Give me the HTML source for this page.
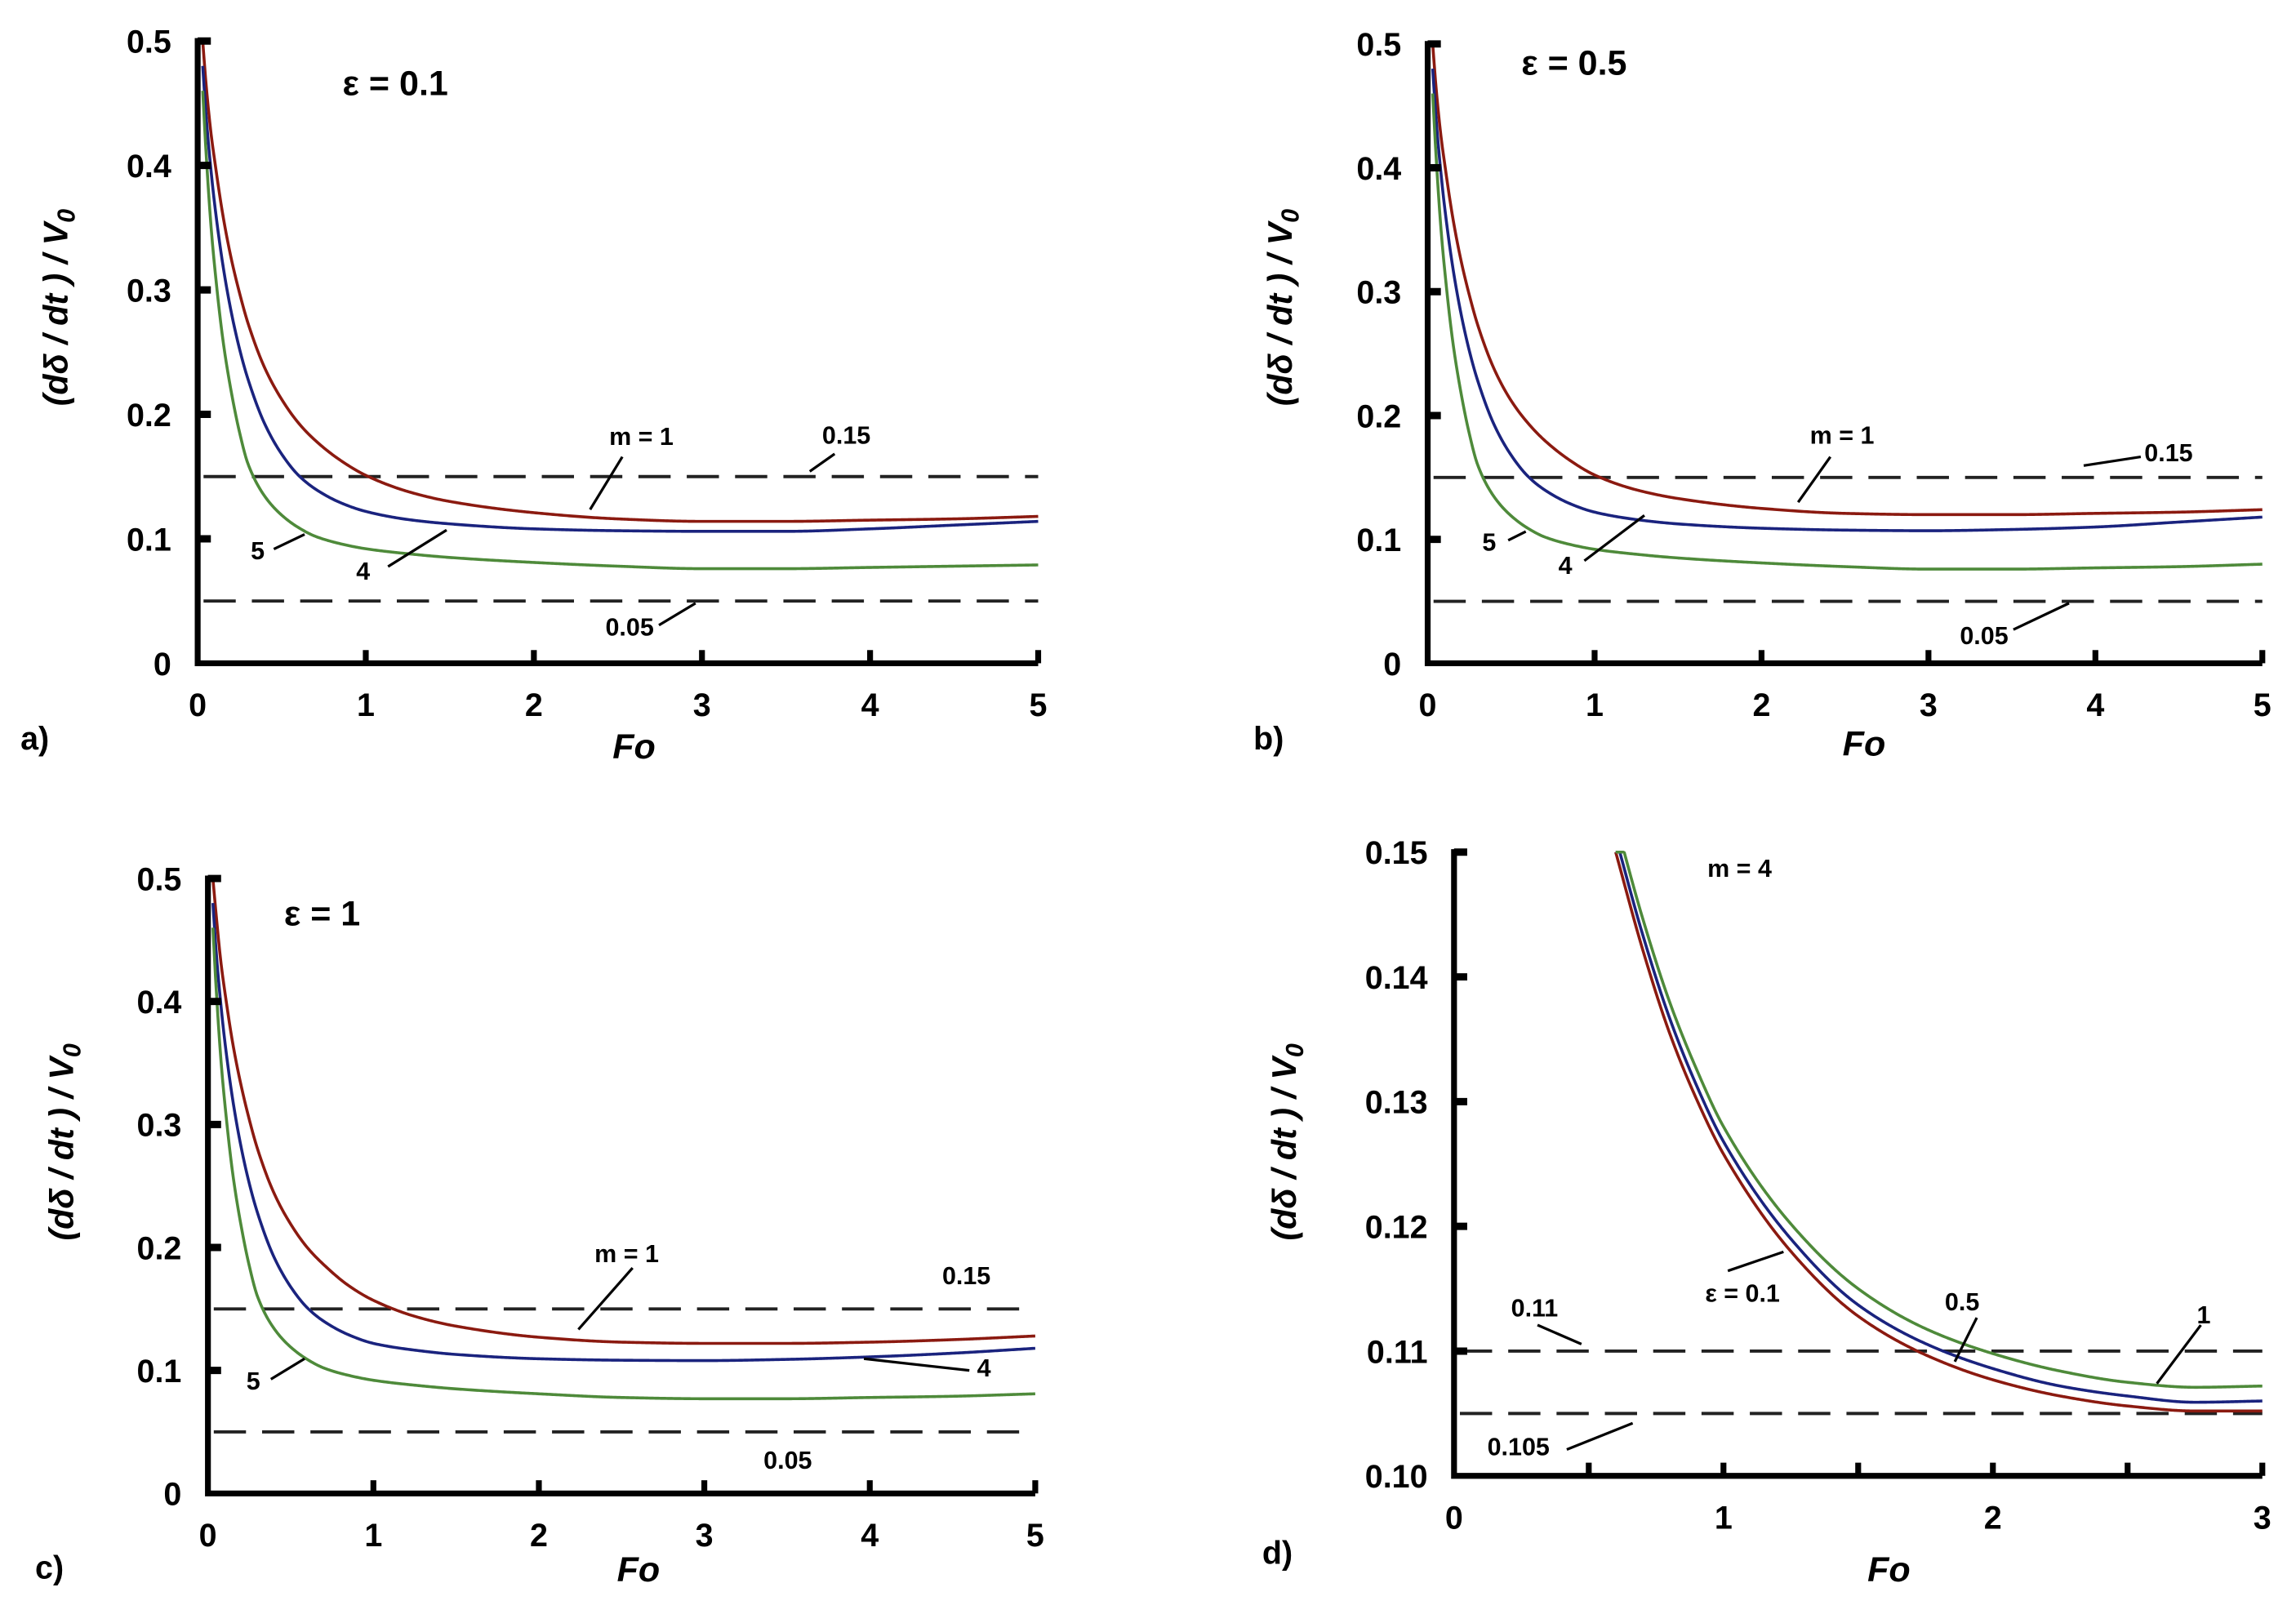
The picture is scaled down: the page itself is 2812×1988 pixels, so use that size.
<!DOCTYPE html>
<html><head><meta charset="utf-8"><style>
html,body{margin:0;padding:0;background:#fff}
svg{display:block}
text{font-family:"Liberation Sans",Arial,sans-serif;font-weight:bold;fill:#000}
</style></head><body>
<svg id="fig" width="2812" height="1988" viewBox="0 0 1568 1108.5" preserveAspectRatio="none"></svg>
<script>
const foA=[0.03,0.05,0.08,0.1,0.15,0.2,0.25,0.3,0.4,0.5,0.6,0.7,0.85,1,1.25,1.5,2,2.5,3,3.5,4,4.5,5];
const aRed=[0.5,0.465,0.425,0.405,0.36,0.325,0.297,0.273,0.237,0.212,0.193,0.179,0.163,0.151,0.138,0.13,0.121,0.116,0.114,0.114,0.115,0.116,0.118];
const aBlue=[0.48,0.44,0.395,0.37,0.32,0.282,0.252,0.228,0.192,0.168,0.151,0.14,0.129,0.122,0.1155,0.112,0.108,0.1065,0.106,0.106,0.108,0.111,0.114];
const aGreen=[0.46,0.41,0.35,0.32,0.26,0.218,0.185,0.16,0.134,0.119,0.109,0.102,0.096,0.092,0.088,0.085,0.081,0.078,0.076,0.076,0.077,0.078,0.079];
const bRed=[0.5,0.465,0.425,0.405,0.36,0.325,0.297,0.273,0.237,0.212,0.194,0.18,0.164,0.152,0.14,0.133,0.125,0.121,0.12,0.12,0.121,0.122,0.124];
const bBlue=[0.48,0.44,0.395,0.37,0.32,0.282,0.252,0.228,0.192,0.168,0.151,0.14,0.129,0.122,0.116,0.1125,0.109,0.1075,0.107,0.108,0.11,0.114,0.118];
const bGreen=[0.46,0.41,0.35,0.32,0.26,0.218,0.185,0.16,0.134,0.119,0.109,0.102,0.096,0.092,0.088,0.085,0.081,0.078,0.076,0.076,0.077,0.078,0.08];
const cRed=[0.5,0.47,0.43,0.41,0.366,0.332,0.304,0.28,0.244,0.219,0.2,0.186,0.169,0.157,0.144,0.136,0.127,0.123,0.122,0.122,0.123,0.125,0.128];
const cBlue=[0.48,0.44,0.395,0.37,0.32,0.282,0.252,0.228,0.192,0.168,0.151,0.14,0.129,0.122,0.1165,0.113,0.1095,0.1083,0.108,0.109,0.111,0.114,0.118];
const cGreen=[0.46,0.41,0.35,0.32,0.26,0.218,0.185,0.16,0.134,0.119,0.109,0.102,0.096,0.092,0.088,0.085,0.081,0.078,0.077,0.077,0.078,0.079,0.081];
const foD=[0.6,0.7,0.8,0.9,1,1.25,1.5,1.75,2,2.25,2.5,2.75,3];
const dRed=[0.15,0.1422,0.1355,0.1302,0.1258,0.118,0.1128,0.1097,0.1077,0.1064,0.1056,0.1052,0.1052];
const dBlue=[0.1512,0.1434,0.1367,0.1313,0.1268,0.119,0.1137,0.1106,0.1086,0.1072,0.1064,0.1059,0.106];
const dGreen=[0.1525,0.1447,0.138,0.1326,0.128,0.1202,0.115,0.1118,0.1098,0.1084,0.1075,0.1071,0.1072];
const ticksXabc=[0,1,2,3,4,5];
const ticksYabc=[0,0.1,0.2,0.3,0.4,0.5];
const labYabc=["0","0.1","0.2","0.3","0.4","0.5"];
const ticksXd=[0,0.5,1,1.5,2,2.5,3];
const labXd=["0","","1","","2","","3"];
const ticksYd=[0.10,0.11,0.12,0.13,0.14,0.15];
const labYd=["0.10","0.11","0.12","0.13","0.14","0.15"];

const NS="http://www.w3.org/2000/svg";
const svg=document.getElementById('fig');
function mk(tag,attrs,parent,txt){const e=document.createElementNS(NS,tag);for(const k in attrs)e.setAttribute(k,attrs[k]);if(txt!==undefined)e.textContent=txt;(parent||svg).appendChild(e);return e;}
function monotone(xs,ys){const n=xs.length,d=[],m=new Array(n);
  for(let i=0;i<n-1;i++)d.push((ys[i+1]-ys[i])/(xs[i+1]-xs[i]));
  m[0]=d[0];m[n-1]=d[n-2];
  for(let i=1;i<n-1;i++){if(d[i-1]*d[i]<=0){m[i]=0;}else{const h0=xs[i]-xs[i-1],h1=xs[i+1]-xs[i],w1=2*h1+h0,w2=h1+2*h0;m[i]=(w1+w2)/(w1/d[i-1]+w2/d[i]);}}
  return x=>{let i=0;while(i<n-2&&x>xs[i+1])i++;const h=xs[i+1]-xs[i],t=(x-xs[i])/h,t2=t*t,t3=t2*t;
    return (2*t3-3*t2+1)*ys[i]+(t3-2*t2+t)*h*m[i]+(-2*t3+3*t2)*ys[i+1]+(t3-t2)*h*m[i+1];};}

function panel(o){
  const g=mk('g',{});
  
  
  const sx=v=>o.x0+(v-o.xmin)/(o.xmax-o.xmin)*(o.x1-o.x0);
  const sy=v=>o.y0-(v-o.ymin)/(o.ymax-o.ymin)*(o.y0-o.y1);
  o.dash.forEach(v=>{const l=mk('line',{x1:o.x0+4,x2:o.x1,y1:sy(v),y2:sy(v),stroke:'#222','stroke-width':2.2,'stroke-dasharray':'22,11'},g);
    });
  o.series.forEach(s=>{const f=monotone(o.fo,s.v);const a=o.fo[0],b=o.fo[o.fo.length-1];let d="";
    for(let k=0;k<=600;k++){const x=a+(b-a)*k/600;let y=f(x);if(y>o.ymax)y=o.ymax;d+=(k?"L":"M")+sx(x).toFixed(2)+","+sy(y).toFixed(2);}
    const p=mk('path',{d:d,fill:'none',stroke:s.c,'stroke-width':2,'stroke-linejoin':'round'},g);
    });
  const ax=mk('path',{d:`M${o.x0},${o.y1-2} L${o.x0},${o.y0} L${o.x1},${o.y0}`,fill:'none',stroke:'#000','stroke-width':4},g);
  
  o.tx.forEach((v,i)=>{const x=sx(v);if(i>0)mk('line',{x1:x,x2:x,y1:o.y0,y2:o.y0-9,stroke:'#000','stroke-width':4},g);
    const lab=o.txl?o.txl[i]:String(v);if(lab){const t=mk('text',{x:x,y:o.y0+36,'text-anchor':'middle','font-size':22},g,lab);
    }});
  o.ty.forEach((v,i)=>{const y=sy(v);if(i>0)mk('line',{x1:o.x0,x2:o.x0+9,y1:y,y2:y,stroke:'#000','stroke-width':5},g);
    const t=mk('text',{x:o.x0-18,y:y+8,'text-anchor':'end','font-size':22},g,o.tyl[i]);
    });
  const xt=mk('text',{x:o.fox,y:o.foy,'text-anchor':'middle','font-size':24,'font-style':'italic'},g,'Fo');
  
  const pl=mk('text',{x:o.plx,y:o.ply,'font-size':22,'font-weight':'normal'},g,o.pl);
  
  const yt=mk('text',{transform:`translate(${o.ylx},${o.yly}) rotate(-90)`,'text-anchor':'middle','font-size':23,'font-style':'italic'},g);
  
  yt.innerHTML='(d&#948; / dt ) / V<tspan font-size="17" dy="5">0</tspan>';
  o.ann.forEach(a=>{const t=mk('text',{x:a[1],y:a[2],'text-anchor':'middle','font-size':a[3]||17,'font-weight':a[3]?'normal':'bold'},g,a[0]);
    });
  o.lead.forEach(l=>{const e=mk('line',{x1:l[0],y1:l[1],x2:l[2],y2:l[3],stroke:'#000','stroke-width':1.8},g);
    });
}
const ser=(r,b,gr)=>[{n:'curve-m1',c:'#8b1a10',v:r},{n:'curve-m4',c:'#1a237e',v:b},{n:'curve-m5',c:'#4e8a3a',v:gr}];
panel({name:'panel-a',x0:135,x1:709,y0:453,y1:28,xmin:0,xmax:5,ymin:0,ymax:0.5,fo:foA,series:ser(aRed,aBlue,aGreen),dash:[0.15,0.05],
 tx:ticksXabc,ty:ticksYabc,tyl:labYabc,fox:433,foy:518,pl:'a)',plx:14,ply:512,ylx:46,yly:210,
 ann:[['\u03b5 = 0.1',270,65,24],['m = 1',438,304],['0.15',578,303],['5',176,382],['4',248,396],['0.05',430,434]],
 lead:[[425,312,403,348],[553,322,570,310],[187,375,208,365],[265,387,305,362],[450,427,475,412]]});
panel({name:'panel-b',x0:975,x1:1545,y0:453,y1:30,xmin:0,xmax:5,ymin:0,ymax:0.5,fo:foA,series:ser(bRed,bBlue,bGreen),dash:[0.15,0.05],
 tx:ticksXabc,ty:ticksYabc,tyl:labYabc,fox:1273,foy:516,pl:'b)',plx:856,ply:512,ylx:882,yly:210,
 ann:[['\u03b5 = 0.5',1075,51,24],['m = 1',1258,303],['0.15',1481,315],['5',1017,376],['4',1069,392],['0.05',1355,440]],
 lead:[[1250,312,1228,343],[1423,318,1462,312],[1030,369,1042,363],[1082,383,1123,352],[1375,430,1413,412]]});
panel({name:'panel-c',x0:142,x1:707,y0:1020,y1:600,xmin:0,xmax:5,ymin:0,ymax:0.5,fo:foA,series:ser(cRed,cBlue,cGreen),dash:[0.15,0.05],
 tx:ticksXabc,ty:ticksYabc,tyl:labYabc,fox:436,foy:1080,pl:'c)',plx:24,ply:1078,ylx:50,yly:780,
 ann:[['\u03b5 = 1',220,632,24],['m = 1',428,862],['0.15',660,877],['5',173,949],['4',672,940],['0.05',538,1003]],
 lead:[[432,866,395,908],[185,942,208,928],[590,928,662,936]]});
panel({name:'panel-d',x0:993,x1:1545,y0:1008,y1:582,xmin:0,xmax:3,ymin:0.1,ymax:0.15,fo:foD,
 series:[{n:'curve-eps-0.1',c:'#8b1a10',v:dRed},{n:'curve-eps-0.5',c:'#1a237e',v:dBlue},{n:'curve-eps-1',c:'#4e8a3a',v:dGreen}],dash:[0.11,0.105],
 tx:ticksXd,txl:labXd,ty:ticksYd,tyl:labYd,fox:1290,foy:1080,pl:'d)',plx:862,ply:1068,ylx:885,yly:780,
 ann:[['m = 4',1188,599],['\u03b5 = 0.1',1190,889],['0.5',1340,895],['1',1505,904],['0.11',1048,899],['0.105',1037,994]],
 lead:[[1180,868,1218,855],[1350,900,1335,930],[1503,905,1473,945],[1050,905,1080,918],[1070,990,1115,972]]});
</script>
</body></html>
